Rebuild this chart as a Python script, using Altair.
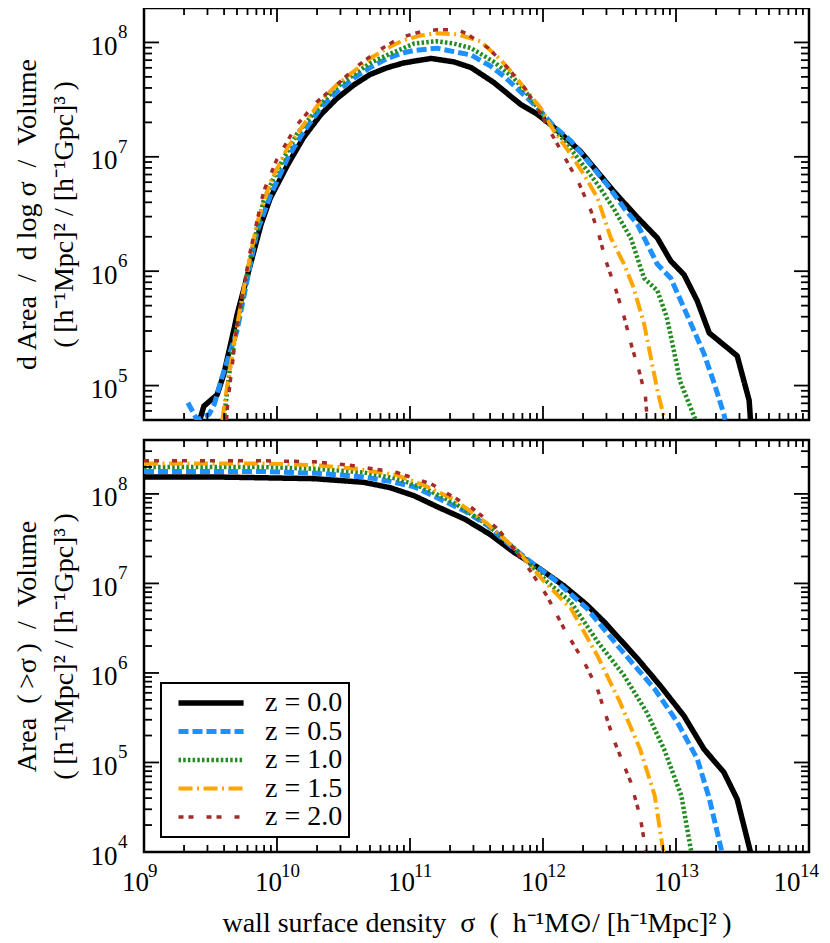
import altair as alt
import pandas as pd

series = ["z = 0.0", "z = 0.5", "z = 1.0", "z = 1.5", "z = 2.0"]
colors = ["#000000", "#1e90ff", "#228b22", "#ffa500", "#a52a2a"]
dashes = [[1, 0], [10, 4], [2.5, 2.2], [14, 4.5, 2, 4.5], [5, 5, 5, 13]]
widths = [5.5, 3.5, 3, 3, 5]

# ---- top panel: log10(sigma) and log10(dArea/dlog sigma/Volume)
top_lx_z00 = [9.42, 9.45, 9.55, 9.60, 9.68, 9.70, 9.80, 9.88, 9.95, 10.08, 10.20, 10.33, 10.45, 10.58, 10.70, 10.83, 10.95, 11.05, 11.16, 11.33, 11.46, 11.63, 11.83, 11.96, 12.06, 12.28, 12.53, 12.71, 12.86, 12.96, 13.06, 13.16, 13.25, 13.46, 13.55, 13.56]
top_ly_z00 = [4.70, 4.82, 4.92, 5.10, 5.51, 5.62, 6.06, 6.41, 6.64, 6.93, 7.17, 7.37, 7.51, 7.63, 7.72, 7.78, 7.82, 7.84, 7.86, 7.83, 7.78, 7.65, 7.46, 7.37, 7.28, 7.05, 6.70, 6.47, 6.29, 6.09, 5.97, 5.74, 5.46, 5.26, 4.87, 4.70]
top_lx_z05 = [9.33, 9.40, 9.49, 9.53, 9.58, 9.70, 9.78, 9.85, 9.95, 10.08, 10.20, 10.33, 10.45, 10.58, 10.70, 10.83, 10.95, 11.03, 11.20, 11.33, 11.46, 11.61, 11.71, 11.83, 11.96, 12.08, 12.21, 12.36, 12.48, 12.61, 12.71, 12.86, 12.96, 13.09, 13.21, 13.29, 13.36, 13.37]
top_ly_z05 = [4.85, 4.70, 4.75, 4.84, 5.05, 5.48, 5.95, 6.35, 6.66, 6.99, 7.22, 7.43, 7.57, 7.69, 7.78, 7.86, 7.91, 7.93, 7.95, 7.92, 7.89, 7.79, 7.70, 7.57, 7.43, 7.27, 7.14, 6.93, 6.76, 6.55, 6.41, 6.06, 5.94, 5.60, 5.28, 5.01, 4.75, 4.70]
top_lx_z10 = [9.60, 9.62, 9.65, 9.70, 9.80, 9.90, 10.00, 10.15, 10.33, 10.45, 10.58, 10.70, 10.83, 10.95, 11.03, 11.20, 11.33, 11.46, 11.63, 11.78, 11.91, 12.03, 12.16, 12.28, 12.41, 12.53, 12.66, 12.76, 12.86, 12.93, 12.98, 13.03, 13.14, 13.15]
top_ly_z10 = [4.70, 4.90, 5.19, 5.52, 6.12, 6.62, 6.88, 7.20, 7.46, 7.61, 7.72, 7.82, 7.89, 7.95, 7.99, 8.01, 7.99, 7.95, 7.83, 7.69, 7.51, 7.31, 7.14, 6.96, 6.76, 6.55, 6.29, 5.94, 5.83, 5.60, 5.33, 5.04, 4.72, 4.70]
top_lx_z15 = [9.59, 9.60, 9.64, 9.68, 9.75, 9.85, 9.95, 10.08, 10.20, 10.33, 10.45, 10.58, 10.70, 10.83, 10.95, 11.08, 11.20, 11.36, 11.53, 11.68, 11.78, 11.88, 11.98, 12.08, 12.21, 12.31, 12.41, 12.51, 12.61, 12.68, 12.76, 12.81, 12.86, 12.91, 12.92]
top_ly_z15 = [4.70, 4.80, 5.10, 5.39, 5.85, 6.42, 6.78, 7.08, 7.28, 7.49, 7.63, 7.75, 7.86, 7.95, 8.02, 8.06, 8.08, 8.07, 8.01, 7.85, 7.72, 7.57, 7.43, 7.23, 7.02, 6.84, 6.64, 6.29, 6.06, 5.86, 5.54, 5.25, 4.96, 4.72, 4.70]
top_lx_z20 = [9.62, 9.63, 9.70, 9.80, 9.90, 10.00, 10.15, 10.30, 10.45, 10.60, 10.75, 10.88, 10.98, 11.10, 11.20, 11.36, 11.42, 11.59, 11.74, 11.87, 11.98, 12.07, 12.18, 12.27, 12.36, 12.42, 12.47, 12.55, 12.61, 12.67, 12.72, 12.77, 12.78, 12.785]
top_ly_z20 = [4.70, 4.85, 5.54, 6.18, 6.70, 6.98, 7.28, 7.48, 7.63, 7.79, 7.92, 8.01, 8.06, 8.10, 8.11, 8.11, 8.08, 7.95, 7.77, 7.59, 7.38, 7.19, 6.96, 6.77, 6.53, 6.32, 6.10, 5.83, 5.60, 5.33, 5.14, 4.91, 4.75, 4.70]

# ---- bottom panel: log10(sigma) and log10(Area(>sigma)/Volume)
bot_lx_z00 = [9.0, 9.5, 9.9, 10.28, 10.65, 10.85, 11.03, 11.20, 11.41, 11.60, 11.78, 11.96, 12.16, 12.33, 12.46, 12.71, 12.88, 13.06, 13.21, 13.36, 13.46, 13.56]
bot_ly_z00 = [8.19, 8.19, 8.18, 8.17, 8.13, 8.07, 7.98, 7.86, 7.72, 7.55, 7.35, 7.18, 6.97, 6.76, 6.57, 6.16, 5.86, 5.52, 5.15, 4.89, 4.59, 4.00]
bot_lx_z05 = [9.0, 9.9, 10.3, 10.65, 10.85, 11.03, 11.20, 11.41, 11.58, 11.78, 11.96, 12.08, 12.33, 12.58, 12.84, 13.01, 13.16, 13.25, 13.345]
bot_ly_z05 = [8.25, 8.25, 8.23, 8.19, 8.14, 8.08, 7.96, 7.81, 7.65, 7.39, 7.18, 7.05, 6.72, 6.27, 5.82, 5.45, 5.04, 4.60, 4.00]
bot_lx_z10 = [9.0, 9.9, 10.3, 10.65, 10.9, 11.1, 11.33, 11.58, 11.81, 12.03, 12.21, 12.41, 12.61, 12.78, 12.91, 13.04, 13.115]
bot_ly_z10 = [8.30, 8.30, 8.28, 8.24, 8.17, 8.07, 7.90, 7.66, 7.36, 7.02, 6.79, 6.35, 5.97, 5.56, 5.15, 4.63, 4.00]
bot_lx_z15 = [9.0, 9.9, 10.3, 10.6, 10.9, 11.1, 11.33, 11.58, 11.81, 12.01, 12.21, 12.41, 12.58, 12.73, 12.84, 12.905]
bot_ly_z15 = [8.34, 8.34, 8.32, 8.28, 8.21, 8.10, 7.94, 7.67, 7.36, 7.02, 6.72, 6.19, 5.67, 5.15, 4.63, 4.00]
bot_lx_z20 = [9.0, 9.9, 10.28, 10.55, 10.90, 11.16, 11.46, 11.66, 11.78, 11.91, 12.03, 12.16, 12.31, 12.41, 12.53, 12.66, 12.73, 12.775]
bot_ly_z20 = [8.37, 8.37, 8.36, 8.32, 8.24, 8.11, 7.85, 7.61, 7.39, 7.13, 6.86, 6.49, 6.12, 5.82, 5.26, 4.78, 4.40, 4.00]

# ---- axes (tick values and exponent labels)
x_domain = [1e9, 1e14]
top_y_domain = [5e4, 2e8]
bot_y_domain = [1e4, 4e8]
x_major = [1e9, 1e10, 1e11, 1e12, 1e13, 1e14]
x_exp_labels = ["9", "10", "11", "12", "13", "14"]
top_y_major = [1e5, 1e6, 1e7, 1e8]
top_y_exp_labels = ["5", "6", "7", "8"]
bot_y_major = [1e4, 1e5, 1e6, 1e7, 1e8]
bot_y_exp_labels = ["4", "5", "6", "7", "8"]
x_minor = [k * 10.0 ** d for d in range(9, 14) for k in range(2, 10)]
top_y_minor = [k * 1e4 for k in range(6, 10)] + [k * 10.0 ** d for d in range(5, 8) for k in range(2, 10)]
bot_y_minor = [k * 10.0 ** d for d in range(4, 8) for k in range(2, 10)] + [2e8, 3e8]

top_y_title = ["d Area\u2002/\u2002d log σ\u2002/\u2002Volume", "(\u2009[h⁻¹Mpc]² / [h⁻¹Gpc]³\u2009)"]
bot_y_title = ["Area\u2002(\u2009>σ\u2009)\u2002/\u2002Volume", "(\u2009[h⁻¹Mpc]² / [h⁻¹Gpc]³\u2009)"]
x_title = "wall surface density\u2002σ\u2002(\u2002h⁻¹M⊙/ [h⁻¹Mpc]²\u2009)"

W, H = 665, 412
FONT = "Liberation Serif"
BASE_FS = 27
EXP_FS = 19
TITLE_FS = 28


def build(lxs, lys):
    rows = []
    for s, lx, ly in zip(series, lxs, lys):
        for a, b in zip(lx, ly):
            rows.append({"series": s, "sigma": 10 ** a, "value": 10 ** b})
    return pd.DataFrame(rows)


top_df = build([top_lx_z00, top_lx_z05, top_lx_z10, top_lx_z15, top_lx_z20],
               [top_ly_z00, top_ly_z05, top_ly_z10, top_ly_z15, top_ly_z20])
bot_df = build([bot_lx_z00, bot_lx_z05, bot_lx_z10, bot_lx_z15, bot_lx_z20],
               [bot_ly_z00, bot_ly_z05, bot_ly_z10, bot_ly_z15, bot_ly_z20])


def panel(df, ydom, ytitle, ymaj, yexp, ymin, show_x, legend):
    xs = alt.Scale(type="log", domain=x_domain, nice=False)
    ys = alt.Scale(type="log", domain=ydom, nice=False)
    if show_x:
        xaxis = alt.Axis(values=x_major, labelExpr="'10'", title=x_title, labelOffset=-9,
                         labelAlign={"condition": {"test": "datum.value > 5e13", "value": "right"},
                                     "value": "center"},
                         labelFlush=False, labelPadding=17, titlePadding=14,
                         ticks=False, domain=False, grid=False)
    else:
        xaxis = None
    yaxis = alt.Axis(values=ymaj, labelExpr="'10'", title=ytitle, labelPadding=27, labelOffset=4,
                     labelFlush=False, titlePadding=12, titleLineHeight=37,
                     ticks=False, domain=False, grid=False)

    def X():
        return alt.X("sigma:Q", scale=xs, axis=xaxis)

    def Y():
        return alt.Y("value:Q", scale=ys, axis=yaxis)

    lines = alt.Chart(df).mark_line(clip=True, strokeCap="butt", strokeJoin="round").encode(
        x=X(), y=Y(),
        color=alt.Color("series:N", scale=alt.Scale(domain=series, range=colors), legend=legend),
        strokeDash=alt.StrokeDash("series:N", scale=alt.Scale(domain=series, range=dashes), legend=legend),
        strokeWidth=alt.StrokeWidth("series:N", scale=alt.Scale(domain=series, range=widths), legend=legend),
    )
    layers = [lines]
    for vals, L in [(x_major, 14), (x_minor, 7)]:
        base = alt.Chart(pd.DataFrame({"sigma": vals})).mark_rule(color="black", strokeWidth=1.8)
        layers.append(base.encode(x=X(), y=alt.value(H), y2=alt.value(H - L)))
        layers.append(base.encode(x=X(), y=alt.value(0), y2=alt.value(L)))
    for vals, L in [(ymaj, 15), (ymin, 8)]:
        base = alt.Chart(pd.DataFrame({"value": vals})).mark_rule(color="black", strokeWidth=1.8)
        layers.append(base.encode(y=Y(), x=alt.value(0), x2=alt.value(L)))
        layers.append(base.encode(y=Y(), x=alt.value(W), x2=alt.value(W - L)))
    # exponents of the power-of-ten tick labels
    yexp_df = pd.DataFrame({"value": ymaj, "exp": yexp})
    layers.append(alt.Chart(yexp_df).mark_text(
        font=FONT, fontSize=EXP_FS, color="black", align="left", baseline="middle", dy=-10
    ).encode(y=Y(), x=alt.value(-26), text="exp:N"))
    if show_x:
        xexp_df = pd.DataFrame({"sigma": x_major[:-1], "exp": x_exp_labels[:-1]})
        layers.append(alt.Chart(xexp_df).mark_text(
            font=FONT, fontSize=EXP_FS, color="black", align="left", baseline="middle", dx=4
        ).encode(x=X(), y=alt.value(H + 19), text="exp:N"))
        xexp_last = pd.DataFrame({"sigma": x_major[-1:], "exp": x_exp_labels[-1:]})
        layers.append(alt.Chart(xexp_last).mark_text(
            font=FONT, fontSize=EXP_FS, color="black", align="left", baseline="middle", dx=-9
        ).encode(x=X(), y=alt.value(H + 19), text="exp:N"))
    return alt.layer(*layers).properties(width=W, height=H)


legend = alt.Legend(title=None, orient="none", legendX=17, legendY=243,
                    symbolType="M-1,0H5.2", symbolSize=441, symbolOffset=8,
                    labelFont=FONT, labelFontSize=28, labelColor="black",
                    strokeColor="black", fillColor="white", padding=6, rowPadding=0.5,
                    labelOffset=62)

top = panel(top_df, top_y_domain, top_y_title, top_y_major, top_y_exp_labels, top_y_minor, False, None)
bot = panel(bot_df, bot_y_domain, bot_y_title, bot_y_major, bot_y_exp_labels, bot_y_minor, True, legend)

chart = alt.vconcat(top, bot, spacing=14).resolve_scale(
    color="independent", strokeDash="independent", strokeWidth="independent"
).properties(
    padding={"left": 3, "top": -3, "right": 0, "bottom": 0}
).configure_view(
    stroke="black", strokeWidth=2.5
).configure_axis(
    labelFont=FONT, labelFontSize=BASE_FS, labelColor="black",
    titleFont=FONT, titleFontSize=TITLE_FS, titleFontWeight="normal", titleColor="black"
).configure_legend(
    strokeWidth=2
)

chart.save("out.html", embed_options={"renderer": "svg", "actions": False})
